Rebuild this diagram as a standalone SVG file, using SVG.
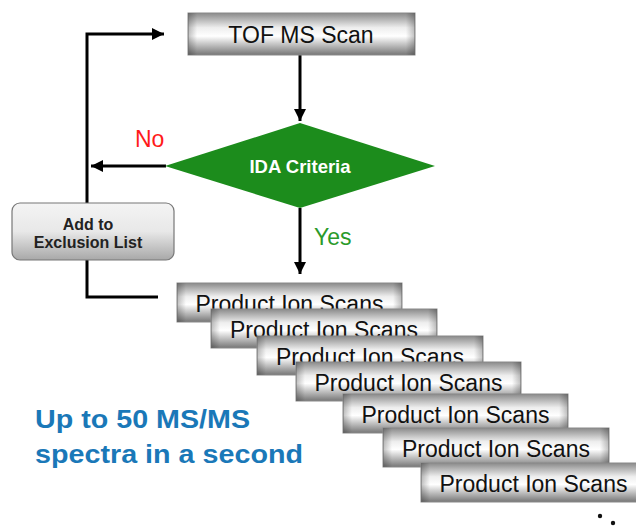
<svg xmlns="http://www.w3.org/2000/svg" width="636" height="529" viewBox="0 0 636 529">
<defs>
<linearGradient id="gbox" x1="0" y1="0" x2="0" y2="1">
<stop offset="0" stop-color="#8a8a8a"/>
<stop offset="0.35" stop-color="#eeeeee"/>
<stop offset="0.55" stop-color="#ffffff"/>
<stop offset="1" stop-color="#767676"/>
</linearGradient>
<linearGradient id="gside" x1="0" y1="0" x2="1" y2="0">
<stop offset="0" stop-color="#000" stop-opacity="0.25"/>
<stop offset="0.04" stop-color="#000" stop-opacity="0"/>
<stop offset="0.96" stop-color="#000" stop-opacity="0"/>
<stop offset="1" stop-color="#000" stop-opacity="0.25"/>
</linearGradient>
<linearGradient id="gexcl" x1="0" y1="0" x2="0" y2="1">
<stop offset="0" stop-color="#f4f4f4"/>
<stop offset="0.5" stop-color="#e8e8e8"/>
<stop offset="1" stop-color="#a8a8a8"/>
</linearGradient>
<marker id="ah" viewBox="0 0 10 10" refX="10" refY="5" markerWidth="4" markerHeight="4" orient="auto" markerUnits="strokeWidth">
<path d="M0,0 L10,5 L0,10 z" fill="#000"/>
</marker>
</defs>
<style>
.box{fill:url(#gbox);stroke:#8a8a8a;stroke-width:1}
.side{fill:url(#gside)}
.bt{font-family:"Liberation Sans",Arial,sans-serif;font-size:23px;fill:#111;text-anchor:middle}
.conn{fill:none;stroke:#000;stroke-width:3}
</style>
<rect width="636" height="529" fill="#fff"/>

<g id="connectors">
<line class="conn" x1="300" y1="55" x2="300" y2="121" marker-end="url(#ah)"/>
<line class="conn" x1="166" y1="166" x2="91" y2="166" marker-end="url(#ah)"/>
<polyline class="conn" points="87,203 87,34 164,34" marker-end="url(#ah)"/>
<polyline class="conn" points="87,260 87,297 158,297"/>
<line class="conn" x1="300" y1="208" x2="300" y2="274" marker-end="url(#ah)"/>
<text x="135" y="147" font-family="Liberation Sans,Arial,sans-serif" font-size="23" fill="#ff1a1a">No</text>
<text x="314" y="245" font-family="Liberation Sans,Arial,sans-serif" font-size="23" fill="#2a9a2a">Yes</text>
</g>

<g id="tof">
<rect class="box" x="188" y="13" width="227" height="42"/>
<rect class="side" x="188" y="13" width="227" height="42"/>
<text class="bt" x="301" y="43">TOF MS Scan</text>
</g>

<g id="ida">
<polygon points="165,166 300,123 435,166 300,208" fill="#1c8c1c"/>
<text x="300" y="173" font-family="Liberation Sans,Arial,sans-serif" font-size="18.5" font-weight="bold" fill="#fff" text-anchor="middle">IDA Criteria</text>
</g>

<g id="exclusion">
<rect x="12" y="203" width="162" height="57" rx="8" fill="url(#gexcl)" stroke="#777" stroke-width="1.2"/>
<text x="88" y="230" font-family="Liberation Sans,Arial,sans-serif" font-size="16" font-weight="bold" fill="#222" text-anchor="middle">Add to</text>
<text x="88" y="248" font-family="Liberation Sans,Arial,sans-serif" font-size="16" font-weight="bold" fill="#222" text-anchor="middle">Exclusion List</text>
</g>

<g id="scan1">
<rect class="box" x="177" y="283" width="225" height="39"/>
<rect class="side" x="177" y="283" width="225" height="39"/>
<text class="bt" x="289.5" y="312">Product Ion Scans</text>
</g>
<g id="scan2">
<rect class="box" x="211" y="309" width="226" height="39"/>
<rect class="side" x="211" y="309" width="226" height="39"/>
<text class="bt" x="324" y="338">Product Ion Scans</text>
</g>
<g id="scan3">
<rect class="box" x="257" y="336" width="226" height="39"/>
<rect class="side" x="257" y="336" width="226" height="39"/>
<text class="bt" x="370" y="365">Product Ion Scans</text>
</g>
<g id="scan4">
<rect class="box" x="296" y="362" width="225" height="39"/>
<rect class="side" x="296" y="362" width="225" height="39"/>
<text class="bt" x="408.5" y="391">Product Ion Scans</text>
</g>
<g id="scan5">
<rect class="box" x="343" y="394" width="225" height="39"/>
<rect class="side" x="343" y="394" width="225" height="39"/>
<text class="bt" x="455.5" y="423">Product Ion Scans</text>
</g>
<g id="scan6">
<rect class="box" x="383" y="428" width="226" height="39"/>
<rect class="side" x="383" y="428" width="226" height="39"/>
<text class="bt" x="496" y="457">Product Ion Scans</text>
</g>
<g id="scan7">
<rect class="box" x="421" y="463" width="225" height="39"/>
<rect class="side" x="421" y="463" width="225" height="39"/>
<text class="bt" x="533.5" y="492">Product Ion Scans</text>
</g>

<g id="caption">
<text font-family="Liberation Sans,Arial,sans-serif" font-size="26" font-weight="bold" fill="#1a78b8">
<tspan x="35" y="428" textLength="215" lengthAdjust="spacingAndGlyphs">Up to 50 MS/MS</tspan>
<tspan x="35" y="463" textLength="268" lengthAdjust="spacingAndGlyphs">spectra in a second</tspan>
</text>
</g>

<g id="dots">
<circle cx="600" cy="516" r="2.2" fill="#111"/>
<circle cx="613" cy="523" r="2.2" fill="#111"/>
</g>
</svg>
